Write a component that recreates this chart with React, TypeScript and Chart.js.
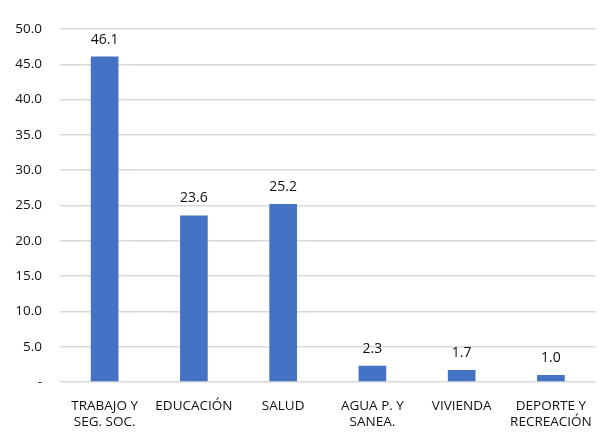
import React, { useEffect, useRef } from "react";
import { Chart, registerables } from "chart.js";

Chart.register(...registerables);

const categories: (string | string[])[] = [
  ["TRABAJO Y", "SEG. SOC."],
  "EDUCACIÓN",
  "SALUD",
  ["AGUA P. Y", "SANEA."],
  "VIVIENDA",
  ["DEPORTE Y", "RECREACIÓN"],
];
const values = [46.1, 23.6, 25.2, 2.3, 1.7, 1.0];
const yMax = 50;
const yStep = 5;

const FONT = "'Open Sans', 'Liberation Sans', sans-serif";

const labelPlugin = {
  id: "barLabels",
  afterDatasetsDraw(chart: any) {
    const ctx = chart.ctx;
    const meta = chart.getDatasetMeta(0);
    ctx.save();
    ctx.font = `500 14px ${FONT}`;
    ctx.fillStyle = "#111";
    ctx.textAlign = "center";
    ctx.textBaseline = "alphabetic";
    meta.data.forEach((el: any, i: number) => {
      ctx.fillText(values[i].toFixed(1), el.x, el.y - 13);
    });
    ctx.restore();
  },
};

export default function App() {
  const ref = useRef<HTMLCanvasElement>(null);
  useEffect(() => {
    document.body.style.margin = "0";
    const chart = new Chart(ref.current!, {
      type: "bar",
      data: {
        labels: categories,
        datasets: [
          {
            data: values,
            backgroundColor: "#4472C4",
            borderWidth: 0,
            barPercentage: 0.31,
            categoryPercentage: 1,
          },
        ],
      },
      options: {
        responsive: false,
        animation: false,
        layout: { padding: { top: 29, right: 3, left: 0, bottom: 0 } },
        plugins: { legend: { display: false }, tooltip: { enabled: false } },
        scales: {
          x: {
            grid: { display: false, drawTicks: false },
            border: { display: false },
            ticks: {
              color: "#111",
              font: { family: FONT, size: 13.5, weight: 500 },
              padding: 16,
              maxRotation: 0,
              autoSkip: false,
            },
            afterFit(scale: any) {
              scale.height = 55;
            },
          },
          y: {
            min: 0,
            max: yMax,
            grid: { color: "#d9d9d9", lineWidth: 1.5, drawTicks: false },
            border: { display: false },
            ticks: {
              stepSize: yStep,
              color: "#111",
              font: { family: FONT, size: 13.5, weight: 500 },
              padding: 18,
              callback: (v: any) => (Number(v) === 0 ? "-" : Number(v).toFixed(1)),
            },
            afterFit(scale: any) {
              scale.width = 60;
            },
          },
        },
      },
      plugins: [labelPlugin],
    });
    return () => chart.destroy();
  }, []);
  return <canvas ref={ref} width={608} height={437} style={{ display: "block" }} />;
}
